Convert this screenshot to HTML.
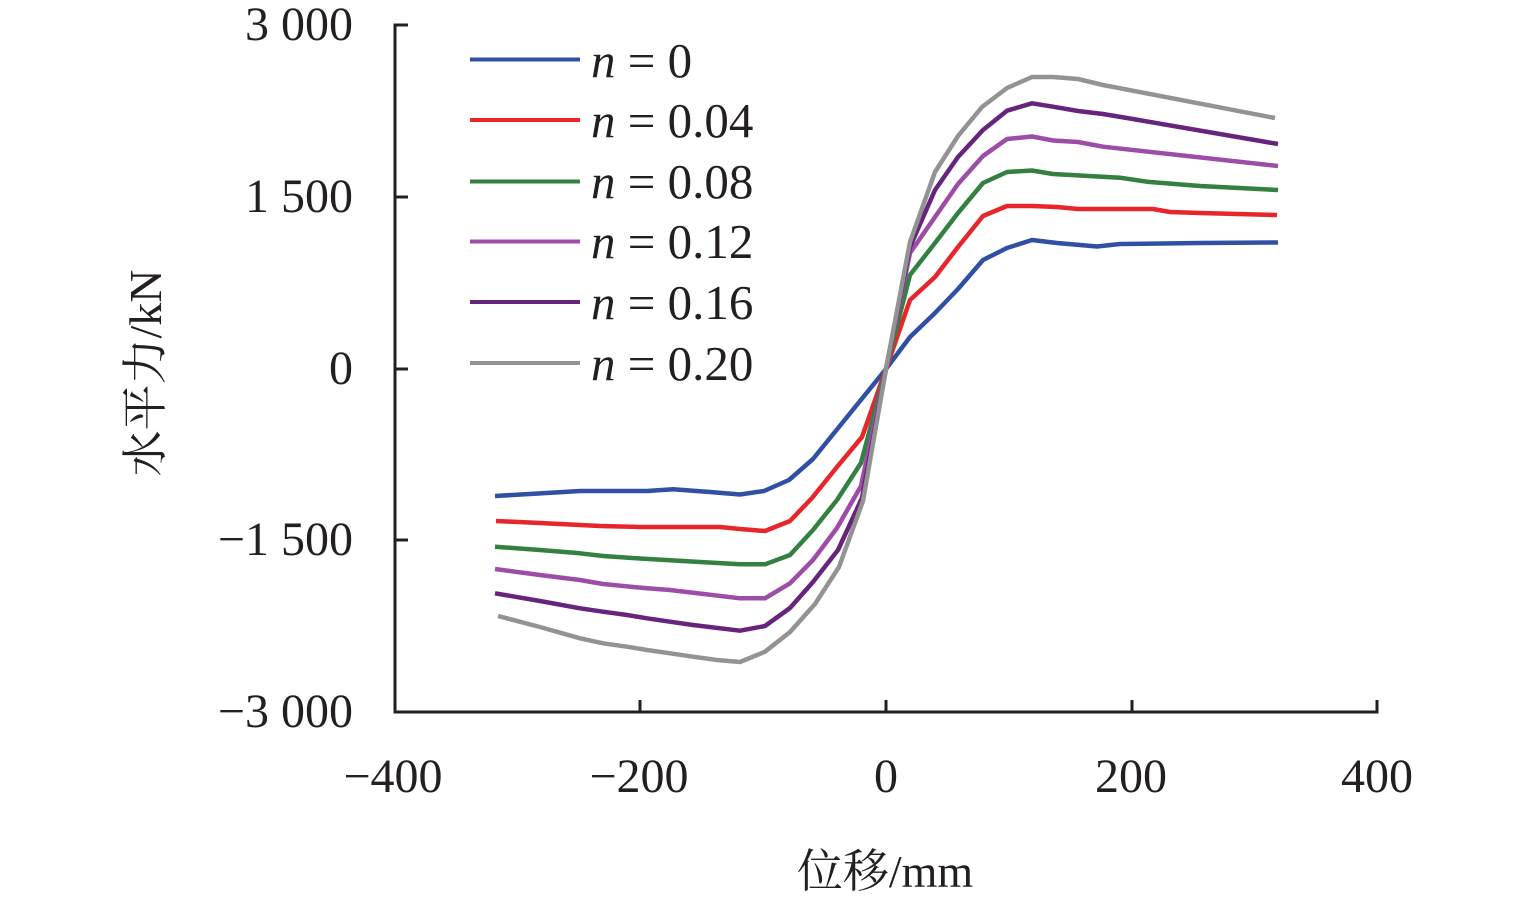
<!DOCTYPE html>
<html>
<head>
<meta charset="utf-8">
<style>
html,body{margin:0;padding:0;background:#fff;}
svg{display:block;}
text{font-family:"Liberation Serif","Noto Serif CJK SC",serif;fill:#231f20;}
</style>
</head>
<body>
<svg width="1535" height="904" viewBox="0 0 1535 904" xmlns="http://www.w3.org/2000/svg">
<!-- axes -->
<g stroke="#231f20" stroke-width="3" fill="none">
<polyline points="408,25 395,25 395,712 1377,712 1377,700"/>
<line x1="395" y1="197" x2="408" y2="197"/>
<line x1="395" y1="369" x2="408" y2="369"/>
<line x1="395" y1="540" x2="408" y2="540"/>
<line x1="640" y1="712" x2="640" y2="700"/>
<line x1="886" y1="712" x2="886" y2="700"/>
<line x1="1132" y1="712" x2="1132" y2="700"/>
</g>
<!-- y tick labels -->
<g font-size="48" text-anchor="end">
<text x="353" y="40">3 000</text>
<text x="353" y="212">1 500</text>
<text x="353" y="384">0</text>
<text x="353" y="555">−1 500</text>
<text x="353" y="727">−3 000</text>
</g>
<!-- x tick labels -->
<g font-size="48" text-anchor="middle">
<text x="393" y="792">−400</text>
<text x="639" y="792">−200</text>
<text x="886" y="792">0</text>
<text x="1131" y="792">200</text>
<text x="1377" y="792">400</text>
</g>
<!-- axis titles -->
<text x="885" y="887" font-size="46" text-anchor="middle">位移/mm</text>
<text transform="translate(161,373) rotate(-90)" font-size="46" text-anchor="middle">水平力/kN</text>
<!-- series -->
<g fill="none" stroke-width="4.5" stroke-linejoin="round">
<polyline stroke="#3050a3" points="495,496 538,493.5 580,491 620,491 647,491 673,489.3 710,492 740,494.5 764,491 789,480 813,459 886,369 910,337 935,313 958,289 983,260 1007,248 1032,240 1057,243 1080,245 1097,246.5 1120,244 1200,243 1278,242.5"/>
<polyline stroke="#e8252a" points="496,521 540,523 580,525 600,526 640,527 680,527 720,527 740,529 765,531 790,521 812,498 837,467 862,437 886,369 910,300 935,277 958,247 983,216 1007,206 1032,206 1057,207 1078,209 1153,209 1170,212 1200,213 1277,215"/>
<polyline stroke="#338040" points="495,546.7 540,550 580,553.3 603,556 640,558.5 700,562 740,564.3 765,564.3 790,555 813,530 837,500 861,463 886,369 910,275 935,243 958,213 983,183 1007,172 1032,170.5 1053,174 1120,177.7 1147,181.7 1200,186 1278,190"/>
<polyline stroke="#9d4ca8" points="495,569 540,575 580,580 603,584 647,588.3 670,590 740,598.3 765,598.3 790,583.3 813,560 837,528 861,486 886,369 910,253 935,217 958,184 983,156 1007,139 1032,136.5 1053,140.5 1078,142 1103,146.7 1278,166"/>
<polyline stroke="#67247c" points="495,593.3 540,601 580,608.3 603,611.7 627,615 647,618.3 670,621.7 693,625 740,630.7 765,626 790,608 813,582 838,550 862,498 886,369 910,247 935,190 958,157 983,130 1007,110.7 1032,103.3 1053,106.7 1078,111 1103,114 1127,118 1278,144"/>
<polyline stroke="#939393" points="498,616 540,627 580,638.3 603,643.3 627,646.7 647,650 670,653.3 693,656.7 717,660 740,662 765,651.7 790,632 815,604 839,567 863,501 886,369 910,242 935,172 958,136 982,107 1007,88 1032,77 1053,77 1078,79 1103,85 1275,118"/>
</g>
<!-- legend -->
<g stroke-width="4">
<line x1="470" y1="59.5" x2="580" y2="59.5" stroke="#3050a3"/>
<line x1="470" y1="120" x2="580" y2="120" stroke="#e8252a"/>
<line x1="470" y1="181.5" x2="580" y2="181.5" stroke="#338040"/>
<line x1="470" y1="241.5" x2="580" y2="241.5" stroke="#9d4ca8"/>
<line x1="470" y1="302" x2="580" y2="302" stroke="#67247c"/>
<line x1="470" y1="363" x2="580" y2="363" stroke="#939393"/>
</g>
<g font-size="49">
<text x="591" y="77"><tspan font-style="italic">n</tspan> = 0</text>
<text x="591" y="137"><tspan font-style="italic">n</tspan> = 0.04</text>
<text x="591" y="198"><tspan font-style="italic">n</tspan> = 0.08</text>
<text x="591" y="258"><tspan font-style="italic">n</tspan> = 0.12</text>
<text x="591" y="319"><tspan font-style="italic">n</tspan> = 0.16</text>
<text x="591" y="380"><tspan font-style="italic">n</tspan> = 0.20</text>
</g>
</svg>
</body>
</html>
